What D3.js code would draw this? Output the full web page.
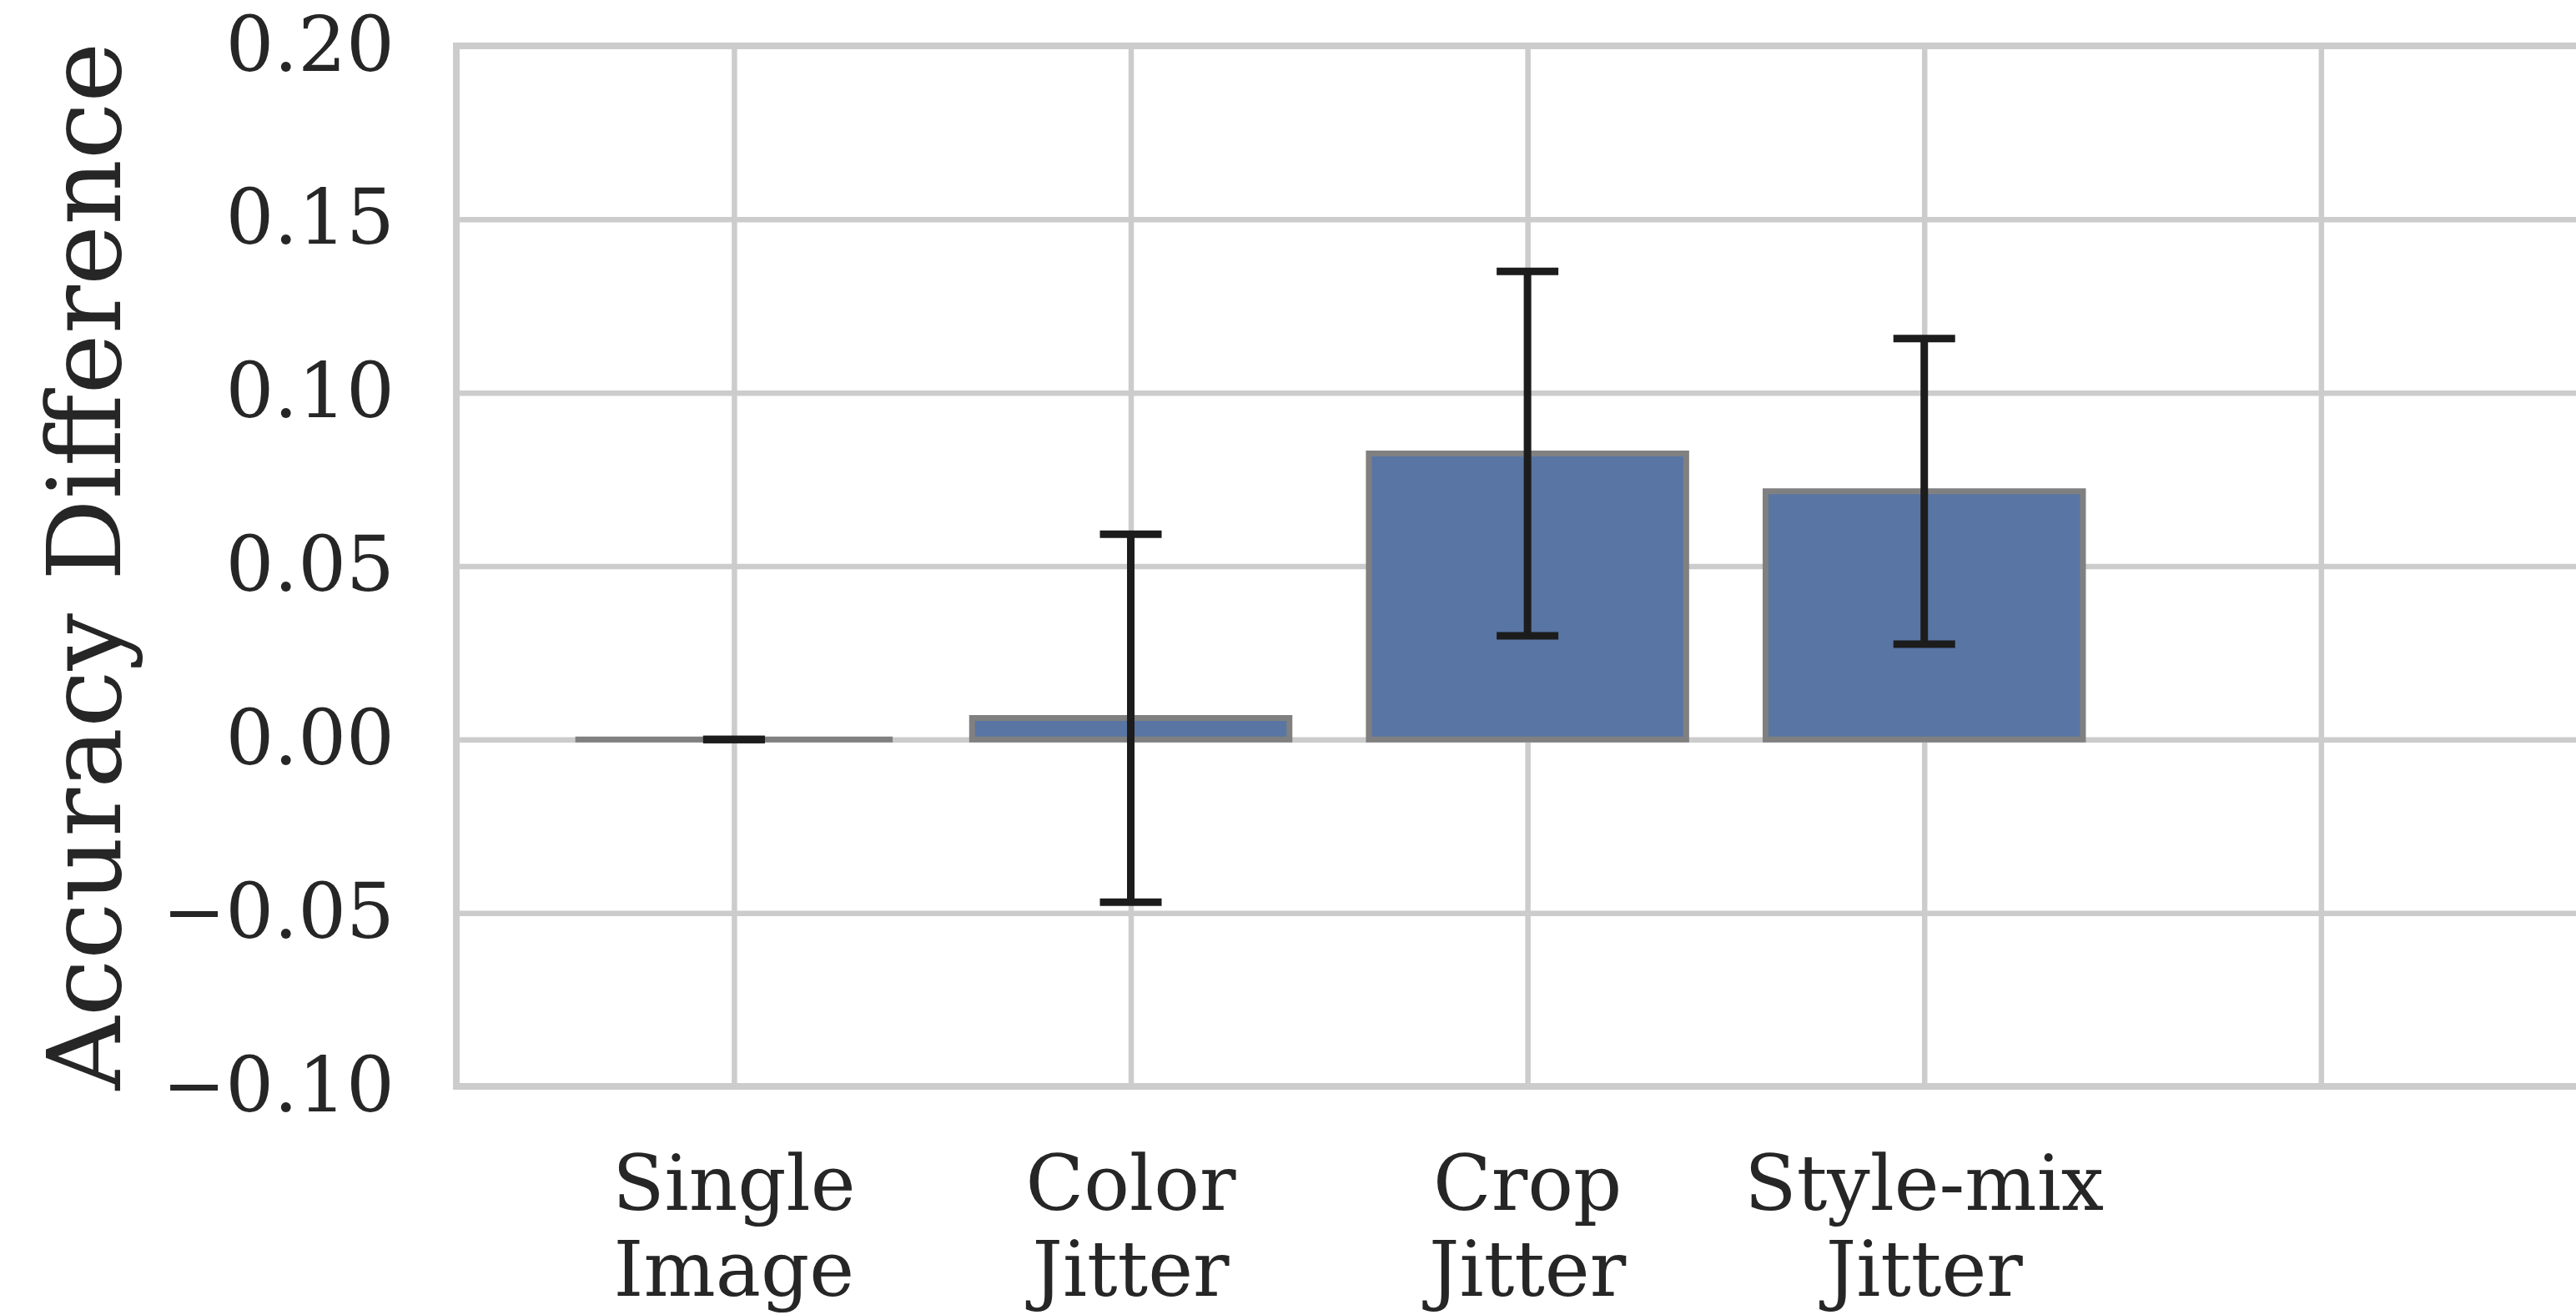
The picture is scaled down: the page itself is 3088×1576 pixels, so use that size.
<!DOCTYPE html>
<html>
<head>
<meta charset="utf-8">
<script src="https://cdn.jsdelivr.net/npm/d3@7"></script>
<style>
  body { margin: 0; background: #fff; }
  svg { display: block; font-family: 'DejaVu Serif', serif; }
</style>
</head>
<body>
<div class="container"></div>
<script>
// values
const categories = ['Single\nImage', 'Color\nJitter', 'Crop\nJitter', 'Style-mix\nJitter'];
const means = [0.0, 0.0062, 0.0825, 0.0716];
const errLow = [0.0, -0.0469, 0.0299, 0.0275];
const errHigh = [0.0, 0.0592, 0.135, 0.1156];
const yTicks = [-0.1, -0.05, 0.0, 0.05, 0.1, 0.15, 0.2];
const xGridSlots = [0, 1, 2, 3, 4];

const width = 3088;
const height = 1576;
const plotLeft = 547;
const plotTop = 55;
const plotBottom = 1302;
const slot = 475.6;

const textColor = '#262626';
const gridColor = '#cccccc';

const svg = d3
  .select('.container')
  .append('svg')
  .attr('width', width)
  .attr('height', height);

const xScale = d3
  .scaleLinear()
  .domain([-0.7, 5.7])
  .range([plotLeft, plotLeft + 6.4 * slot]);

const yScale = d3.scaleLinear().domain([-0.1, 0.2]).range([plotBottom, plotTop]);

// horizontal grid + y tick labels
const yAxis = d3
  .axisLeft(yScale)
  .tickValues(yTicks)
  .tickFormat(d3.format('.2f'))
  .tickSize(-(xScale(5.7) - plotLeft))
  .tickPadding(74);

svg
  .append('g')
  .attr('id', 'y-axis')
  .attr('transform', `translate(${plotLeft},0)`)
  .call(yAxis)
  .call((g) => g.select('.domain').remove())
  .call((g) =>
    g.selectAll('.tick line').attr('stroke', gridColor).attr('stroke-width', 6.5)
  )
  .call((g) =>
    g
      .selectAll('.tick text')
      .attr('fill', textColor)
      .style('font-size', '91px')
      .style('font-family', 'DejaVu Serif')
  );

// vertical grid
const xAxis = d3
  .axisBottom(xScale)
  .tickValues(xGridSlots)
  .tickFormat('')
  .tickSize(-(plotBottom - plotTop));

svg
  .append('g')
  .attr('id', 'x-grid')
  .attr('transform', `translate(0,${plotBottom})`)
  .call(xAxis)
  .call((g) => g.select('.domain').remove())
  .call((g) =>
    g.selectAll('.tick line').attr('stroke', gridColor).attr('stroke-width', 6.5)
  );

// x tick labels (two lines each)
const labels = svg
  .append('g')
  .attr('id', 'x-labels')
  .selectAll('text')
  .data(categories)
  .enter()
  .append('text')
  .attr('x', (d, i) => xScale(i))
  .attr('y', 1450)
  .attr('text-anchor', 'middle')
  .attr('fill', textColor)
  .style('font-size', '91px');

labels
  .selectAll('tspan')
  .data((d, i) => d.split('\n').map((t) => ({ t, i })))
  .enter()
  .append('tspan')
  .attr('x', (d) => xScale(d.i))
  .attr('dy', (d, j) => (j === 0 ? 0 : 103))
  .text((d) => d.t);

// bars (paths so a zero-height bar still shows its edge)
const barHalf = 0.4;
svg
  .append('g')
  .attr('id', 'bars')
  .selectAll('path')
  .data(means)
  .enter()
  .append('path')
  .attr('d', (d, i) => {
    const x0 = xScale(i - barHalf);
    const x1 = xScale(i + barHalf);
    const y0 = yScale(0);
    const y1 = yScale(d);
    return `M${x0},${y0}H${x1}V${y1}H${x0}Z`;
  })
  .attr('fill', '#5975a4')
  .attr('stroke', '#808080')
  .attr('stroke-width', 7);

// error bars
const errG = svg
  .append('g')
  .attr('id', 'errors')
  .selectAll('g')
  .data(means)
  .enter()
  .append('g')
  .attr('stroke', '#1c1c1c')
  .attr('stroke-width', 9);

const capHalf = 37;
errG
  .append('line')
  .attr('x1', (d, i) => xScale(i))
  .attr('x2', (d, i) => xScale(i))
  .attr('y1', (d, i) => yScale(errLow[i]))
  .attr('y2', (d, i) => yScale(errHigh[i]));

[errLow, errHigh].forEach((arr) =>
  errG
    .append('line')
    .attr('x1', (d, i) => xScale(i) - capHalf)
    .attr('x2', (d, i) => xScale(i) + capHalf)
    .attr('y1', (d, i) => yScale(arr[i]))
    .attr('y2', (d, i) => yScale(arr[i]))
);

// spines: left, bottom, top
svg
  .append('path')
  .attr('id', 'spines')
  .attr('d', `M${xScale(5.7)},${plotTop}H${plotLeft}V${plotBottom}H${xScale(5.7)}`)
  .attr('stroke', gridColor)
  .attr('stroke-width', 8)
  .attr('stroke-linecap', 'square')
  .attr('fill', 'none');

// y axis title
svg
  .append('text')
  .attr('transform', `translate(144,${(plotTop + plotBottom) / 2}) rotate(-90)`)
  .attr('text-anchor', 'middle')
  .attr('fill', textColor)
  .style('font-size', '122px')
  .text('Accuracy Difference');
</script>
</body>
</html>
